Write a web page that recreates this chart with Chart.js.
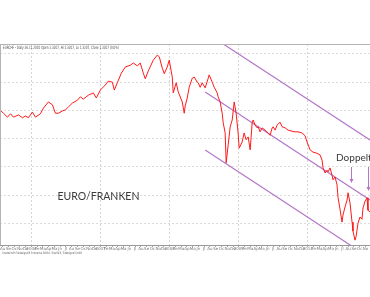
<!DOCTYPE html>
<html>
<head>
<meta charset="utf-8">
<script src="https://cdn.jsdelivr.net/npm/chart.js@4"></script>
<style>
html, body { margin: 0; padding: 0; background: #fff; }
</style>
</head>
<body>
<canvas id="chart" width="370" height="297"></canvas>
<script>
// EUR/CHF daily (decimal years / price)
const dates = [
    2005.552, 2005.595, 2005.653, 2005.697, 2005.740, 2005.812, 2005.870, 2005.913, 2005.957, 2006.014,
    2006.058, 2006.130, 2006.173, 2006.246, 2006.303, 2006.347, 2006.390, 2006.448, 2006.491, 2006.535,
    2006.592, 2006.665, 2006.708, 2006.751, 2006.824, 2006.896, 2006.939, 2006.997, 2007.069, 2007.113,
    2007.171, 2007.199, 2007.243, 2007.301, 2007.358, 2007.431, 2007.474, 2007.532, 2007.575, 2007.619,
    2007.647, 2007.691, 2007.763, 2007.821, 2007.850, 2007.893, 2007.922, 2007.965, 2007.994, 2008.038,
    2008.052, 2008.095, 2008.124, 2008.182, 2008.211, 2008.225, 2008.254, 2008.283, 2008.327, 2008.356,
    2008.399, 2008.413, 2008.442, 2008.471, 2008.514, 2008.558, 2008.572, 2008.616, 2008.645, 2008.688,
    2008.702, 2008.731, 2008.760, 2008.775, 2008.803, 2008.818, 2008.847, 2008.876, 2008.905, 2008.934,
    2008.962, 2008.991, 2009.006, 2009.049, 2009.078, 2009.107, 2009.136, 2009.165, 2009.194, 2009.208,
    2009.237, 2009.266, 2009.280, 2009.309, 2009.338, 2009.382, 2009.425, 2009.454, 2009.483, 2009.497,
    2009.526, 2009.555, 2009.598, 2009.627, 2009.671, 2009.714, 2009.772, 2009.815, 2009.858, 2009.916,
    2009.960, 2009.988, 2010.032, 2010.075, 2010.133, 2010.176, 2010.205, 2010.220, 2010.249, 2010.277,
    2010.292, 2010.321, 2010.350, 2010.364, 2010.393, 2010.422, 2010.436, 2010.465, 2010.494, 2010.509,
    2010.538, 2010.567, 2010.581, 2010.610, 2010.639, 2010.653, 2010.682, 2010.697, 2010.726, 2010.754,
    2010.783, 2010.798, 2010.827, 2010.856, 2010.870, 2010.899
];
const prices = [
    1.600, 1.595, 1.588, 1.594, 1.588, 1.592, 1.587, 1.590, 1.587, 1.597,
    1.588, 1.594, 1.604, 1.615, 1.610, 1.595, 1.595, 1.599, 1.601, 1.606,
    1.613, 1.618, 1.624, 1.620, 1.627, 1.631, 1.622, 1.636, 1.645, 1.652,
    1.650, 1.636, 1.649, 1.666, 1.677, 1.680, 1.684, 1.679, 1.684, 1.666,
    1.656, 1.670, 1.689, 1.698, 1.695, 1.675, 1.665, 1.677, 1.689, 1.659,
    1.631, 1.649, 1.633, 1.615, 1.595, 1.608, 1.622, 1.641, 1.657, 1.659,
    1.650, 1.649, 1.641, 1.649, 1.640, 1.657, 1.663, 1.650, 1.641, 1.631,
    1.624, 1.615, 1.595, 1.578, 1.560, 1.507, 1.539, 1.571, 1.583, 1.615,
    1.595, 1.560, 1.533, 1.544, 1.560, 1.548, 1.553, 1.530, 1.578, 1.583,
    1.574, 1.569, 1.571, 1.562, 1.569, 1.565, 1.560, 1.556, 1.569, 1.571,
    1.565, 1.574, 1.579, 1.571, 1.569, 1.565, 1.563, 1.562, 1.562, 1.560,
    1.555, 1.544, 1.530, 1.526, 1.524, 1.521, 1.512, 1.498, 1.489, 1.494,
    1.491, 1.498, 1.485, 1.477, 1.482, 1.468, 1.446, 1.425, 1.402, 1.415,
    1.429, 1.441, 1.454, 1.436, 1.402, 1.386, 1.370, 1.376, 1.400, 1.411,
    1.407, 1.427, 1.439, 1.445, 1.423, 1.420
];

// trend channel drawn on the chart
const channelDates = [2008.514, 2010.899];
const upperChannel = [1.7387, 1.5475];
const middleChannel = [1.6326, 1.4411];
const lowerChannel = [1.5298, 1.3383];

// "Doppeltop" arrows
const arrowDates = [2010.624, 2010.870];
const arrowFrom = [1.4997, 1.4997];
const arrowTo = [1.4713, 1.4571];

const gridLevels = [1.70, 1.65, 1.60, 1.55, 1.50, 1.45, 1.40];
const monthLabels = ["Ja", "Fe", "Ma", "Ap", "Ma", "Jn", "Jl", "Au", "Se", "Oc", "No", "De"];

const headerText = "EURCHF - Daily 26.11.2010 Open 1.3207, Hi 1.3207, Lo 1.3207, Close 1.3207 (0.0%)";
const footerText = "Created with Tradesignal\u00ae Enterprise Edition / Equilla\u00ae, Tradesignal GmbH";
const titleText = "EURO/FRANKEN";
const noteText = "Doppeltop";

const purple = "#b377c8";

function toPoints(xs, ys) {
    return xs.map((x, i) => ({ x: x, y: ys[i] }));
}

const notesPlugin = {
    id: "notes",
    afterDraw(chart) {
        const ctx = chart.ctx;
        const area = chart.chartArea;
        const xs = chart.scales.x;
        const ys = chart.scales.y;
        ctx.save();

        // frame
        ctx.strokeStyle = "#b4b4b4";
        ctx.lineWidth = 1;
        ctx.beginPath();
        ctx.moveTo(0, area.top + 0.5);
        ctx.lineTo(370, area.top + 0.5);
        ctx.moveTo(0.5, area.top);
        ctx.lineTo(0.5, area.bottom);
        ctx.stroke();

        // header / footer
        ctx.fillStyle = "#444";
        ctx.font = "4.5px 'DejaVu Sans'";
        ctx.textBaseline = "top";
        ctx.fillText(headerText, 3, area.top + 2, 116);
        ctx.fillStyle = "#666";
        ctx.font = "3.5px 'DejaVu Sans'";
        ctx.fillText(footerText, 2, area.bottom + 6, 80);

        // labels
        ctx.fillStyle = "#3a3a3a";
        ctx.textBaseline = "middle";
        ctx.font = "10.5px Lato";
        ctx.fillText(titleText, xs.getPixelForValue(2006.376), ys.getPixelForValue(1.4465));
        ctx.textBaseline = "alphabetic";
        ctx.font = "10px Lato";
        ctx.fillText(noteText, xs.getPixelForValue(2010.408), ys.getPixelForValue(1.510));

        // arrows
        ctx.strokeStyle = purple;
        ctx.fillStyle = purple;
        ctx.lineWidth = 1;
        arrowDates.forEach((d, i) => {
            const px = Math.round(xs.getPixelForValue(d)) + 0.5;
            const y0 = ys.getPixelForValue(arrowFrom[i]);
            const y1 = ys.getPixelForValue(arrowTo[i]);
            ctx.beginPath();
            ctx.moveTo(px, y0);
            ctx.lineTo(px, y1 - 3);
            ctx.stroke();
            ctx.beginPath();
            ctx.moveTo(px - 2, y1 - 4);
            ctx.lineTo(px + 2, y1 - 4);
            ctx.lineTo(px, y1);
            ctx.closePath();
            ctx.fill();
        });
        ctx.restore();
    }
};

const ctx = document.getElementById("chart").getContext("2d");
const chart = new Chart(ctx, {
    type: "line",
    data: {
        datasets: [
            {
                data: toPoints(dates, prices),
                borderColor: "#ff1a1a",
                borderWidth: 1,
                pointRadius: 0,
                tension: 0
            },
            {
                data: toPoints(channelDates, upperChannel),
                borderColor: purple,
                borderWidth: 1.2,
                pointRadius: 0
            },
            {
                data: toPoints(channelDates, middleChannel),
                borderColor: purple,
                borderWidth: 1.2,
                pointRadius: 0
            },
            {
                data: toPoints(channelDates, lowerChannel),
                borderColor: purple,
                borderWidth: 1.2,
                pointRadius: 0
            }
        ]
    },
    options: {
        responsive: false,
        devicePixelRatio: 1,
        animation: false,
        layout: { padding: { top: 44, left: 0, right: 0, bottom: 46 } },
        plugins: {
            legend: { display: false },
            tooltip: { enabled: false }
        },
        scales: {
            x: {
                type: "linear",
                min: 2005.552,
                max: 2010.899,
                afterBuildTicks: function (scale) {
                    const ticks = [];
                    for (let m = 2005 * 12 + 7; m <= 2010 * 12 + 10; m++) {
                        ticks.push({ value: m / 12 });
                    }
                    scale.ticks = ticks;
                },
                afterFit: function (scale) { scale.height = 6; },
                ticks: {
                    autoSkip: false,
                    maxRotation: 0,
                    padding: 0,
                    color: "#777",
                    font: { size: 4, family: "DejaVu Sans" },
                    callback: function (value) {
                        const m = Math.round(value * 12);
                        const month = ((m % 12) + 12) % 12;
                        return month === 0 ? String(Math.round(m / 12)) : monthLabels[month];
                    }
                },
                grid: {
                    color: function (c) {
                        if (!c.tick) return "transparent";
                        const m = Math.round(c.tick.value * 12);
                        return m % 12 === 0 ? "#d4d4d4" : "transparent";
                    },
                    tickColor: "#aaa",
                    tickLength: 2,
                    lineWidth: 1
                },
                border: { display: true, color: "#999", dash: [2, 2] }
            },
            y: {
                min: 1.3614,
                max: 1.7177,
                afterBuildTicks: function (scale) {
                    scale.ticks = gridLevels.map(v => ({ value: v }));
                },
                afterFit: function (scale) { scale.width = 0; },
                ticks: { display: false },
                grid: {
                    color: "#dcdcdc",
                    drawTicks: false,
                    lineWidth: 1
                },
                border: { display: false, dash: [2, 2] }
            }
        }
    },
    plugins: [notesPlugin]
});
</script>
</body>
</html>
